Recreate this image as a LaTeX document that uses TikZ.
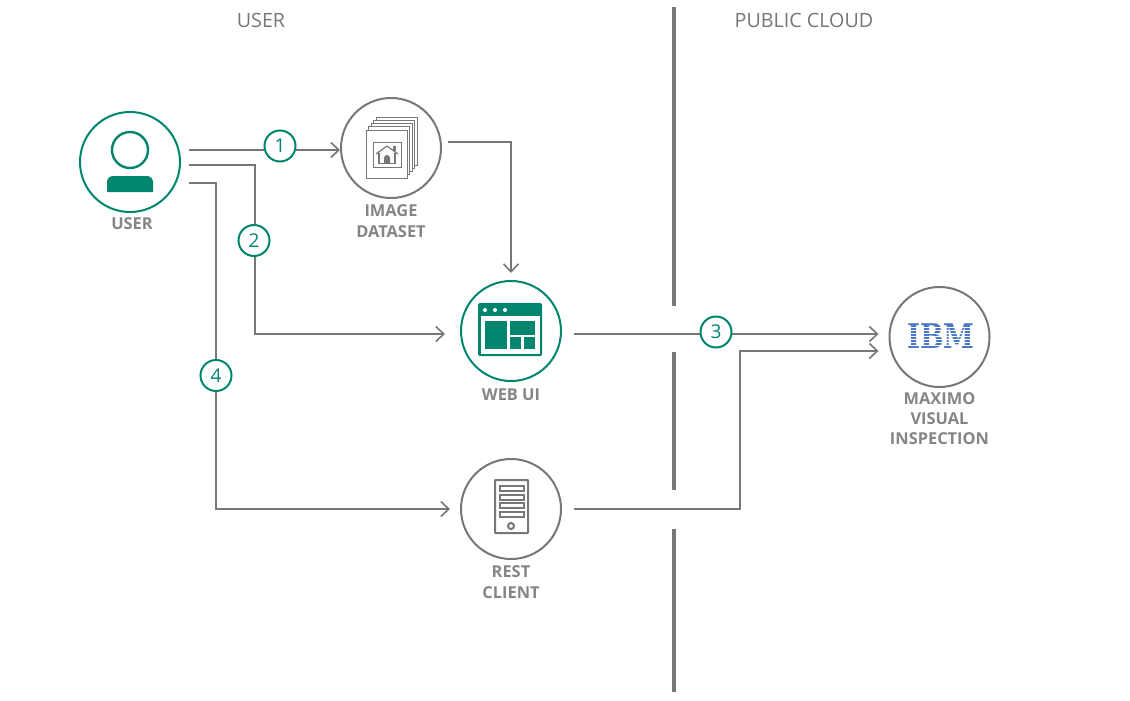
\documentclass[tikz,border=0pt]{standalone}
\usepackage{fontspec}
\setmainfont{Open Sans}
\newfontfamily\logofont{DejaVu Serif}
\usetikzlibrary{arrows.meta,positioning,calc}
\definecolor{tealc}{HTML}{00856F}
\definecolor{grayc}{HTML}{777777}
\definecolor{ibmblue}{HTML}{4A78C4}

\begin{document}
\begin{tikzpicture}[
    x=1pt,
    y=-1pt,
    actor/.style={
        circle,
        draw=grayc,
        line width=2pt,
        fill=white,
        inner sep=0pt,
        minimum size=100pt
    },
    actorteal/.style={
        actor,
        draw=tealc
    },
    badge/.style={
        circle,
        draw=tealc,
        line width=2pt,
        fill=white,
        text=tealc,
        inner sep=0pt,
        minimum size=31pt,
        font=\fontsize{19}{19}\selectfont
    },
    caption/.style={
        text=grayc!90,
        align=center,
        font=\fontsize{16.4}{20.3}\selectfont\bfseries
    },
    zone/.style={
        text=grayc,
        font=\fontsize{19.7}{20}\selectfont
    },
    arrow/.style={
        -{Straight Barb[length=8pt,width=15pt,line width=1.6pt]},
        draw=grayc,
        line width=1.8pt
    },
    divider/.style={
        draw=grayc,
        line width=4pt
    },
    icongray/.style={
        draw=grayc,
        line width=1pt,
        fill=white
    }
]
\useasboundingbox[fill=white] (0,0) rectangle (1130,701);

% --- Zone dividers ---
\coordinate (d1a) at (674,7);
\coordinate (d1b) at (674,306);
\coordinate (d2a) at (674,352);
\coordinate (d2b) at (674,490);
\coordinate (d3a) at (674,529);
\coordinate (d3b) at (674,692);
\draw[divider] (d1a) -- (d1b);
\draw[divider] (d2a) -- (d2b);
\draw[divider] (d3a) -- (d3b);
\node[zone] (zoneuser) at (261,20) {USER};
\node[zone] (zonecloud) at (804,20) {PUBLIC CLOUD};

% --- Circles ---
\node[actorteal] (user) at (130,162) {};
\node[actor] (dataset) at (391,148) {};
\node[actorteal] (webui) at (511,331) {};
\node[actor] (rest) at (511,509) {};
\node[actor] (maximo) at (939.5,337) {};

% --- Captions ---
\node[caption] (usercap) at (132,224) {USER};
\node[caption] (datasetcap) at (391,221) {IMAGE\\DATASET};
\node[caption] (webuicap) at (511,395) {WEB UI};
\node[caption] (restcap) at (511,582) {REST\\CLIENT};
\node[caption] (maximocap) at (939.5,418.5) {MAXIMO\\VISUAL\\INSPECTION};

% --- Connector ends ---
\coordinate (uout1) at ([shift={(8,-12)}]user.east);
\coordinate (uout2) at ([shift={(8,3)}]user.east);
\coordinate (uout3) at ([shift={(8,21)}]user.east);
\coordinate (datain) at ([shift={(0,2)}]dataset.west);
\coordinate (dataout) at ([shift={(6,-6)}]dataset.east);
\coordinate (webtop) at ([shift={(0,-7)}]webui.north);
\coordinate (webin) at ([shift={(-15,3)}]webui.west);
\coordinate (webout) at ([shift={(12,3)}]webui.east);
\coordinate (restin) at ([shift={(-10,0)}]rest.west);
\coordinate (restout) at ([shift={(12,0)}]rest.east);
\coordinate (maxin1) at ([shift={(-10,-3)}]maximo.west);
\coordinate (maxin2) at ([shift={(-10,14)}]maximo.west);
\coordinate (bend2) at (255,0);
\coordinate (bend4) at (216,0);
\coordinate (bendrest) at (740,0);

% --- Connectors ---
\draw[arrow] (uout1) -- (datain);
\draw[arrow] (uout2) -- (uout2 -| bend2) -- (webin -| bend2) -- (webin);
\draw[arrow] (uout3) -- (uout3 -| bend4) -- (restin -| bend4) -- (restin);
\draw[arrow] (dataout) -- (dataout -| webtop) -- (webtop);
\draw[arrow] (webout) -- (maxin1);
\draw[arrow] (restout) -- (restout -| bendrest) -- (maxin2 -| bendrest) -- (maxin2);

% --- Numbered badges ---
\node[badge] (n1) at (280,146) {1};
\node[badge] (n2) at (254,240.5) {2};
\node[badge] (n3) at (716,332) {3};
\node[badge] (n4) at (216,375.5) {4};

% --- User icon ---
\draw[tealc, line width=2.4pt] (130,150) circle (18);
\fill[tealc, rounded corners=6pt] (107,192) -- (107,176) -- (153,176) -- (153,192);

% --- Dataset icon ---
\foreach \dd in {10,7.5,5,2.5,0} {
    \draw[icongray, line width=0.8pt] (366+\dd,130-1.3*\dd) rectangle (407+\dd,178-1.3*\dd);
}
\draw[icongray, line width=0.8pt] (373,142) rectangle (401,167);
\draw[grayc, line width=1.2pt, line join=round] (376,154) -- (387,146) -- (398,154);
\draw[grayc, line width=1.2pt] (379,153) -- (379,163.5) -- (395,163.5) -- (395,153);
\fill[grayc] (384,163.5) -- (384,158) arc[start angle=180,end angle=360,radius=3] -- (390,163.5) -- cycle;
\fill[grayc] (393,146) rectangle (396,151);

% --- Web UI icon ---
\fill[tealc, rounded corners=1.5pt] (478,303) rectangle (542,356);
\fill[white] (480.5,316) rectangle (540,353.5);
\foreach \xx in {485,495,505} {
    \fill[white] (\xx,310) circle (2);
}
\fill[tealc] (485,321) rectangle (507,349);
\fill[tealc] (510,321) rectangle (535,335);
\fill[tealc] (510,337) rectangle (521,349);
\fill[tealc] (524,337) rectangle (535,349);

% --- Rest client icon ---
\draw[grayc, line width=2pt, rounded corners=0.5pt] (495,480) rectangle (528,533);
\foreach \yy in {486,494.5,503,511.5} {
    \draw[grayc, line width=2pt] (499.5,\yy) rectangle (523.5,\yy+5);
}
\draw[grayc, line width=2pt] (511,526) circle (3);

% --- IBM logo ---
\node[text=ibmblue, inner sep=0pt, font=\fontsize{34}{34}\selectfont\logofont\bfseries] (ibmlogo) at (941,336.5) {\scalebox{0.82}[1]{IBM}};
\foreach \yy in {327.5,330.5,333.5,336.5,339.5,342.5,345.5} {
    \draw[white, line width=0.7pt] (903,\yy) -- (979,\yy);
}

\end{tikzpicture}
\end{document}
